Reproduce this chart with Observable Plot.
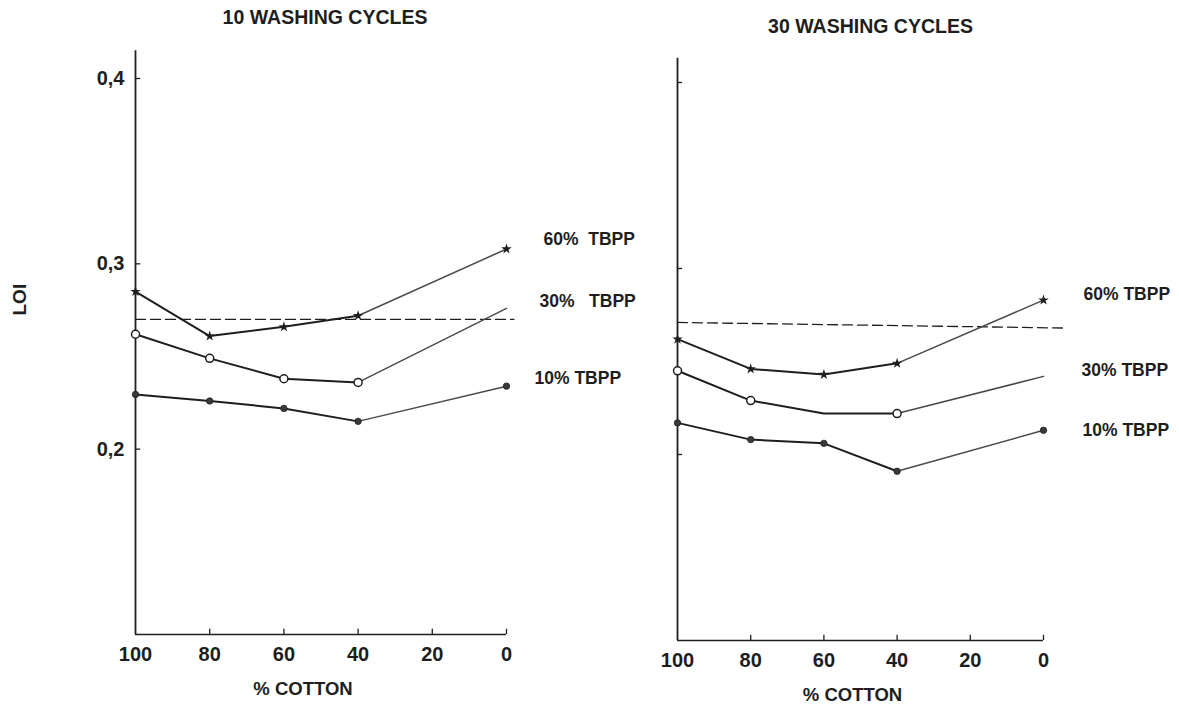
<!DOCTYPE html>
<html>
<head>
<meta charset="utf-8">
<script src="https://cdn.jsdelivr.net/npm/d3@7"></script>
<script src="https://cdn.jsdelivr.net/npm/@observablehq/plot@0.6"></script>
<style>
  html, body { margin: 0; padding: 0; background: #fff; }
  #wrap { position: relative; width: 1179px; height: 708px; }
  #wrap svg { position: absolute; left: 0; top: 0; }
</style>
</head>
<body>
<div id="wrap"></div>
<script>
// ---- data ----
const cotton = [100, 80, 60, 40, 0];
const xTicks = [100, 80, 60, 40, 20, 0];
const yTicks = [0.2, 0.3, 0.4];
const yTickLabels = ["0,2", "0,3", "0,4"];
const seriesNames = ["60% TBPP", "30% TBPP", "10% TBPP"];
const leftSeriesLabels = ["60%\u00a0\u00a0TBPP", "30%\u00a0\u00a0\u00a0TBPP", "10% TBPP"];
const rightSeriesLabels = ["60% TBPP", "30% TBPP", "10% TBPP"];

// 10 washing cycles
const left60 = [0.285, 0.261, 0.266, 0.272, 0.308];
const left30 = [0.262, 0.249, 0.238, 0.236, 0.276];
const left10 = [0.2295, 0.226, 0.222, 0.215, 0.234];
const left30Marked = [100, 80, 60, 40];
const leftDashCotton = [100, -2];
const leftDashLoi = [0.270, 0.270];

// 30 washing cycles
const right60 = [0.262, 0.246, 0.243, 0.249, 0.283];
const right30 = [0.245, 0.229, 0.222, 0.222, 0.242];
const right10 = [0.217, 0.208, 0.206, 0.191, 0.213];
const right30Marked = [100, 80, 40];
const rightDashCotton = [100, -5.5];
const rightDashLoi = [0.271, 0.268];

const titles = ["10 WASHING CYCLES", "30 WASHING CYCLES"];
const xLabel = "% COTTON";
const yLabel = "LOI";

// ---- helpers ----
const FONT = "Liberation Sans, Arial, sans-serif";
const INK = "#1e1e1e";

function rows(values, name) {
  return cotton.map((c, i) => ({cotton: c, loi: values[i], series: name}));
}

function buildMarks(cfg) {
  const s60 = rows(cfg.v60, seriesNames[0]);
  const s30 = rows(cfg.v30, seriesNames[1]);
  const s10 = rows(cfg.v10, seriesNames[2]);
  const all = [...s60, ...s30, ...s10];
  const dash = cfg.dashX.map((c, i) => ({cotton: c, loi: cfg.dashY[i]}));
  const marks = [
    // axes
    Plot.ruleX([100], {y1: 0.1, y2: cfg.yTop, stroke: INK, strokeWidth: 1.8}),
    Plot.ruleY([0.1], {x1: 100, x2: cfg.xEnd, stroke: INK, strokeWidth: 1.5}),
    Plot.ruleY(yTicks, {x1: 100, x2: 98.6, stroke: INK, strokeWidth: 1.3}),
    Plot.ruleX(xTicks.filter(d => d !== 100), {y1: 0.1, y2: 0.1028, stroke: INK, strokeWidth: 1.3}),
    Plot.text(xTicks, {x: d => d, y: 0.1, text: d => String(d), dy: cfg.xTickDy, fontSize: 20, fontWeight: "bold", fill: INK}),
    cfg.showYLabels ? Plot.text(yTicks, {x: 100, y: d => d, text: (d, i) => yTickLabels[i], textAnchor: "end", dx: -11, fontSize: 20, fontWeight: "bold", fill: INK}) : null,
    // titles
    Plot.text([cfg.title], {x: 50, y: 0.4, dx: cfg.titleDx, dy: cfg.titleDy, fontSize: 19.5, fontWeight: "bold", fill: INK}),
    Plot.text([xLabel], {x: 50, y: 0.1, dx: cfg.xLabelDx, dy: cfg.xLabelDy, fontSize: 18.5, fontWeight: "bold", fill: INK}),
    cfg.showYLabels ? Plot.text([yLabel], {frameAnchor: "left", dx: -116, dy: -41, rotate: -90, fontSize: 19, fontWeight: "bold", fill: INK}) : null,
    // dashed reference line
    Plot.line(dash, {x: "cotton", y: "loi", stroke: INK, strokeWidth: 1.3, strokeDasharray: "10,5"}),
    // series lines (dark part, then the lighter rising end)
    Plot.line(all.filter(d => d.cotton >= 40), {x: "cotton", y: "loi", z: "series", stroke: INK, strokeWidth: 2}),
    Plot.line(all.filter(d => d.cotton <= 40), {x: "cotton", y: "loi", z: "series", stroke: "#4a4a4a", strokeWidth: 1.5}),
    // markers
    Plot.dot(s60, {x: "cotton", y: "loi", symbol: "star", r: 3.3, fill: INK}),
    Plot.dot(s30.filter(d => cfg.marked30.includes(d.cotton)), {x: "cotton", y: "loi", r: 4, fill: "white", stroke: INK, strokeWidth: 1.5}),
    Plot.dot(s10, {x: "cotton", y: "loi", r: 3.2, fill: "#3a3a3a", stroke: INK, strokeWidth: 0.8})
  ].filter(Boolean);
  const vals = [cfg.v60, cfg.v30, cfg.v10];
  cfg.labels.forEach((lab, i) => {
    marks.push(Plot.text([{cotton: 0, loi: vals[i][4], label: lab}], {x: "cotton", y: "loi", text: "label", dx: cfg.labelDx[i], dy: cfg.labelDy[i], textAnchor: "start", fontSize: 17.5, fontWeight: "bold", fill: INK}));
  });
  return marks;
}

function makePlot(cfg) {
  return Plot.plot({
    width: 1179, height: 708,
    marginLeft: cfg.marginLeft, marginRight: cfg.marginRight,
    marginTop: cfg.marginTop, marginBottom: cfg.marginBottom,
    x: {domain: [100, 0], axis: null},
    y: {domain: [0.1, 0.4], axis: null},
    style: {background: "transparent", overflow: "visible", fontFamily: FONT},
    marks: buildMarks(cfg)
  });
}

const leftPlot = makePlot({
  marginLeft: 135, marginRight: 1179 - 506, marginTop: 78, marginBottom: 708 - 634,
  v60: left60, v30: left30, v10: left10, marked30: left30Marked,
  dashX: leftDashCotton, dashY: leftDashLoi,
  yTop: 0.415, xEnd: 0, xTickDy: 20, showYLabels: true,
  title: titles[0], titleDx: 4, titleDy: -61,
  xLabelDx: -18, xLabelDy: 55,
  labels: leftSeriesLabels, labelDx: [37, 33, 28], labelDy: [-10, -7, -8]
});
const rightPlot = makePlot({
  marginLeft: 677, marginRight: 1179 - 1043, marginTop: 82, marginBottom: 708 - 640,
  v60: right60, v30: right30, v10: right10, marked30: right30Marked,
  dashX: rightDashCotton, dashY: rightDashLoi,
  yTop: 0.413, xEnd: 0, xTickDy: 20, showYLabels: false,
  title: titles[1], titleDx: 10, titleDy: -56,
  xLabelDx: -8, xLabelDy: 55,
  labels: rightSeriesLabels, labelDx: [40, 38, 39], labelDy: [-6, -6, 0]
});
document.getElementById("wrap").append(leftPlot, rightPlot);
</script>
</body>
</html>
